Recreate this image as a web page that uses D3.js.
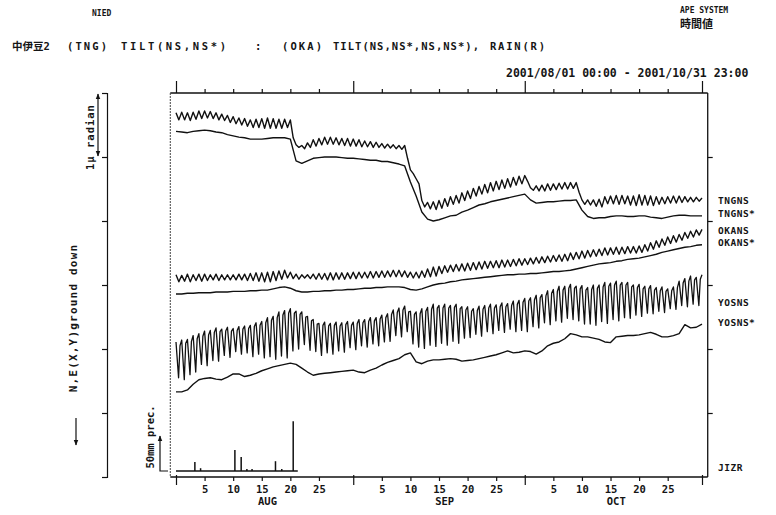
<!DOCTYPE html>
<html><head><meta charset="utf-8">
<script src="https://cdn.jsdelivr.net/npm/d3@7"></script>
<style>
body{margin:0;background:#fff}
svg{display:block}
text{font-family:"DejaVu Sans Mono","Noto Sans CJK JP",monospace;fill:#151515;font-weight:bold}
</style>
</head><body><svg id="c" width="776" height="515"></svg>
<script>
// ---------- data (tilt in micro-radian, arbitrary offsets; time in days since 2001/08/01 00:00) ----------
const MONTHS = ["AUG", "SEP", "OCT"];
const MONTH_START = [0, 31, 61];
const PERIOD_END = 92;
const DAY_TICKS = [5, 10, 15, 20, 25];
const TILT_TICKS = [-1, 0, 1, 2, 3, 4, 5];
const SERIES_LABELS = ["TNGNS", "TNGNS*", "OKANS", "OKANS*", "YOSNS", "YOSNS*", "JIZR"];

const TNGNS_STAR = [4.40,4.39,4.38,4.40,4.41,4.42,4.41,4.39,4.38,4.35,
 4.33,4.31,4.30,4.28,4.28,4.28,4.29,4.30,4.30,4.30,
 4.28,3.94,3.90,3.94,3.98,3.99,4.00,4.00,4.00,3.99,
 3.98,3.98,3.97,3.96,3.95,3.95,3.93,3.93,3.91,3.89,
 3.86,3.61,3.39,3.14,3.03,3.00,3.02,3.05,3.08,3.09,
 3.14,3.17,3.21,3.25,3.27,3.30,3.32,3.34,3.36,3.38,
 3.40,3.42,3.33,3.28,3.29,3.30,3.30,3.31,3.32,3.32,
 3.33,3.17,3.07,3.04,3.05,3.05,3.07,3.08,3.08,3.07,
 3.07,3.08,3.08,3.06,3.05,3.04,3.06,3.08,3.09,3.09,
 3.08,3.08,3.08];
const TNGNS_HI = [4.69,4.70,4.69,4.70,4.72,4.72,4.71,4.69,4.67,4.65,
 4.63,4.61,4.60,4.58,4.59,4.60,4.61,4.60,4.59,4.59,
 4.58,4.19,4.18,4.22,4.27,4.29,4.31,4.31,4.30,4.29,
 4.29,4.28,4.27,4.25,4.24,4.23,4.21,4.20,4.19,4.18,
 4.18,3.80,3.66,3.32,3.29,3.30,3.32,3.35,3.38,3.40,
 3.44,3.47,3.51,3.54,3.57,3.60,3.62,3.64,3.66,3.68,
 3.70,3.71,3.52,3.55,3.56,3.58,3.58,3.59,3.60,3.60,
 3.60,3.33,3.33,3.33,3.34,3.38,3.39,3.40,3.40,3.39,
 3.39,3.41,3.40,3.39,3.38,3.37,3.38,3.39,3.39,3.38,
 3.37,3.37,3.36];
const TNGNS_LO = [4.58,4.58,4.57,4.59,4.60,4.61,4.60,4.58,4.57,4.54,
 4.52,4.50,4.48,4.46,4.46,4.45,4.45,4.45,4.45,4.46,
 4.30,4.15,4.13,4.15,4.17,4.19,4.20,4.20,4.19,4.18,
 4.17,4.17,4.16,4.16,4.15,4.15,4.14,4.14,4.13,4.12,
 3.98,3.74,3.58,3.22,3.19,3.18,3.20,3.23,3.26,3.28,
 3.32,3.35,3.39,3.42,3.44,3.47,3.49,3.51,3.53,3.56,
 3.58,3.62,3.48,3.47,3.47,3.48,3.49,3.50,3.50,3.51,
 3.45,3.26,3.25,3.23,3.22,3.27,3.27,3.26,3.27,3.25,
 3.24,3.25,3.25,3.24,3.26,3.27,3.28,3.28,3.29,3.30,
 3.30,3.31];

const OKANS_STAR = [1.86,1.86,1.87,1.87,1.88,1.88,1.88,1.89,1.89,1.89,
 1.90,1.90,1.90,1.91,1.91,1.92,1.92,1.94,1.96,1.97,
 1.95,1.91,1.89,1.89,1.90,1.90,1.91,1.91,1.92,1.92,
 1.93,1.93,1.94,1.95,1.95,1.96,1.96,1.97,1.97,1.97,
 1.96,1.93,1.92,1.94,1.97,2.00,2.02,2.03,2.05,2.06,
 2.08,2.09,2.10,2.11,2.12,2.13,2.14,2.15,2.16,2.16,
 2.17,2.17,2.18,2.18,2.19,2.20,2.21,2.21,2.22,2.23,
 2.25,2.27,2.29,2.31,2.33,2.34,2.35,2.37,2.38,2.40,
 2.41,2.42,2.44,2.46,2.48,2.51,2.53,2.55,2.57,2.59,
 2.60,2.62,2.63];
const OKANS_HI = [2.16,2.15,2.17,2.16,2.17,2.17,2.16,2.17,2.16,2.16,
 2.16,2.17,2.17,2.18,2.19,2.19,2.20,2.21,2.22,2.23,
 2.20,2.17,2.16,2.16,2.17,2.18,2.18,2.19,2.19,2.19,
 2.19,2.20,2.20,2.20,2.21,2.21,2.22,2.22,2.23,2.23,
 2.22,2.20,2.20,2.22,2.25,2.28,2.29,2.30,2.31,2.32,
 2.33,2.34,2.35,2.36,2.37,2.37,2.38,2.39,2.39,2.40,
 2.41,2.41,2.42,2.43,2.44,2.45,2.46,2.47,2.48,2.50,
 2.51,2.53,2.54,2.55,2.56,2.58,2.58,2.59,2.59,2.60,
 2.60,2.61,2.63,2.66,2.69,2.72,2.75,2.77,2.79,2.82,
 2.84,2.86,2.87];
const OKANS_LO = [2.05,2.06,2.05,2.07,2.06,2.07,2.08,2.07,2.08,2.08,
 2.08,2.08,2.07,2.07,2.06,2.05,2.05,2.07,2.09,2.11,
 2.10,2.09,2.11,2.10,2.09,2.09,2.08,2.08,2.09,2.09,
 2.10,2.10,2.11,2.11,2.11,2.12,2.12,2.13,2.13,2.13,
 2.12,2.11,2.11,2.12,2.13,2.14,2.18,2.20,2.21,2.22,
 2.22,2.23,2.24,2.25,2.26,2.27,2.27,2.28,2.29,2.30,
 2.31,2.32,2.33,2.34,2.35,2.36,2.37,2.37,2.38,2.40,
 2.41,2.42,2.44,2.45,2.46,2.47,2.48,2.48,2.49,2.50,
 2.50,2.51,2.53,2.56,2.59,2.62,2.65,2.67,2.70,2.73,
 2.75,2.78];

const YOSNS_STAR = [0.33,0.33,0.36,0.45,0.52,0.54,0.55,0.53,0.52,0.56,
 0.61,0.61,0.57,0.59,0.62,0.66,0.69,0.72,0.74,0.76,
 0.78,0.76,0.70,0.64,0.59,0.61,0.62,0.63,0.64,0.65,
 0.66,0.67,0.64,0.63,0.67,0.70,0.75,0.79,0.82,0.85,
 0.91,0.94,0.80,0.77,0.81,0.83,0.83,0.84,0.85,0.84,
 0.81,0.82,0.83,0.85,0.87,0.89,0.91,0.94,0.97,0.94,
 0.95,0.97,0.96,0.92,0.97,1.05,1.09,1.11,1.16,1.24,
 1.22,1.19,1.19,1.17,1.15,1.11,1.10,1.19,1.20,1.21,
 1.21,1.22,1.24,1.26,1.23,1.19,1.19,1.21,1.24,1.38,
 1.33,1.34,1.39];
// daily peak (00h), spike bottom (~11h) and evening level (~17h)
const YOSNS_HI = [1.11,1.14,1.15,1.21,1.24,1.28,1.29,1.33,1.31,1.34,
 1.32,1.35,1.36,1.37,1.41,1.43,1.49,1.51,1.58,1.60,
 1.63,1.59,1.58,1.51,1.46,1.40,1.42,1.40,1.42,1.41,
 1.43,1.42,1.46,1.46,1.49,1.49,1.53,1.55,1.61,1.64,
 1.67,1.59,1.58,1.63,1.65,1.70,1.68,1.70,1.68,1.70,
 1.66,1.66,1.63,1.67,1.68,1.70,1.69,1.72,1.71,1.75,
 1.76,1.79,1.80,1.84,1.85,1.91,1.93,1.98,1.98,2.01,
 1.98,1.99,1.96,2.00,2.00,2.04,2.03,2.06,2.04,2.04,
 2.00,2.01,1.98,1.99,1.96,1.97,1.94,1.97,2.06,2.10,
 2.14,2.12,2.16];
const YOSNS_LO = [0.55,0.52,0.60,0.64,0.76,0.74,0.82,0.81,0.90,0.87,
 0.96,0.92,0.94,0.88,0.92,0.86,0.88,0.84,0.89,0.86,
 0.97,1.00,1.07,0.98,0.96,0.90,0.94,0.92,0.97,0.95,
 1.02,0.99,1.05,1.03,1.08,1.05,1.11,1.12,1.21,1.19,
 1.27,1.08,1.03,1.01,1.06,1.04,1.09,1.06,1.12,1.09,
 1.17,1.18,1.23,1.20,1.27,1.24,1.29,1.26,1.31,1.27,
 1.29,1.27,1.35,1.33,1.41,1.38,1.44,1.42,1.48,1.46,
 1.44,1.39,1.39,1.37,1.43,1.40,1.46,1.44,1.49,1.48,
 1.53,1.51,1.56,1.55,1.59,1.57,1.63,1.62,1.68,1.66,
 1.70,1.68];
const YOSNS_EVE = [1.05,1.09,1.12,1.16,1.20,1.22,1.26,1.27,1.28,1.28,
 1.29,1.31,1.32,1.35,1.37,1.41,1.45,1.49,1.53,1.56,
 1.56,1.54,1.50,1.44,1.39,1.37,1.36,1.37,1.36,1.38,
 1.37,1.40,1.41,1.43,1.44,1.47,1.49,1.54,1.57,1.61,
 1.58,1.54,1.55,1.59,1.62,1.64,1.64,1.64,1.65,1.63,
 1.61,1.59,1.60,1.62,1.64,1.64,1.66,1.66,1.68,1.70,
 1.73,1.75,1.77,1.80,1.83,1.87,1.90,1.92,1.95,1.95,
 1.94,1.92,1.93,1.95,1.97,1.98,2.00,2.00,2.00,1.97,
 1.96,1.94,1.94,1.92,1.91,1.90,1.91,1.96,2.03,2.06,
 2.08,2.09];

const RAIN_T = [3.3, 4.3, 10.3, 11.4, 12.4, 13.3, 17.4, 18.5, 20.5];
const RAIN_MM = [13, 4, 30, 20, 3, 3, 14, 3, 71];
const RAIN_END = 21.3;

// ---------- drawing ----------
const svg = d3.select("#c");
const x = d3.scaleLinear().domain([0, PERIOD_END]).range([176, 702]);
const y = d3.scaleLinear().domain([-1, 5]).range([477, 93]);
const yr = d3.scaleLinear().domain([0, 50]).range([471, 436]);
const ink = "#111";

const line = d3.line().x(d => x(d[0])).y(d => y(d[1]));
const daily = arr => arr.map((v, i) => [i, v]);
const osc = (hi, lo) => hi.flatMap((v, i) => i < lo.length ? [[i, v], [i + 0.5, lo[i]]] : [[i, v]]);
const osc3 = (hi, lo, eve) => hi.flatMap((v, i) => i < lo.length ? [[i, v], [i + 0.45, lo[i]], [i + 0.7, eve[i]]] : [[i, v]]);

// header texts
svg.append("text").attr("x", 92).attr("y", 16).attr("font-size", 8).text("NIED");
svg.append("text").attr("x", 680).attr("y", 13).attr("font-size", 8).text("APE SYSTEM");
svg.append("text").attr("x", 680).attr("y", 28).attr("font-size", 11)
  .style("font-family", "'Noto Sans CJK JP'").text("時間値");
const titleSegs = [["中伊豆2", 12, 0], ["(TNG)", 67, 40], ["TILT(NS,NS*)", 121, 105], [":", 255, 0], ["(OKA)", 282, 40],
  ["TILT(NS,NS*,NS,NS*),", 333, 146], ["RAIN(R)", 490, 55]];
svg.append("g").selectAll("text").data(titleSegs).join("text")
  .attr("x", d => d[1]).attr("y", 50).attr("font-size", 10.5)
  .each(function (d) { if (d[2]) d3.select(this).attr("textLength", d[2]).attr("lengthAdjust", "spacing"); })
  .text(d => d[0]);
svg.append("text").attr("x", 506).attr("y", 77).attr("font-size", 11.5)
  .text("2001/08/01 00:00 - 2001/10/31 23:00");

// frame
const fl = x(-1), fr = x(PERIOD_END + 1);
svg.append("line").attr("x1", fl).attr("x2", fr).attr("y1", y(5)).attr("y2", y(5)).attr("stroke", ink).attr("stroke-width", 1.3);
svg.append("line").attr("x1", fl).attr("x2", fr).attr("y1", y(-1)).attr("y2", y(-1)).attr("stroke", ink).attr("stroke-width", 1.3);
svg.append("line").attr("x1", fr).attr("x2", fr).attr("y1", y(5)).attr("y2", y(-1)).attr("stroke", ink).attr("stroke-width", 1.3);
svg.append("line").attr("x1", fl).attr("x2", fl).attr("y1", y(5)).attr("y2", y(-1)).attr("stroke", "#444").attr("stroke-width", 1).attr("stroke-dasharray", "2,1");

// time ticks
const minorT = MONTH_START.flatMap(m => DAY_TICKS.map(d => m + d)).filter(t => t < PERIOD_END);
const majorT = MONTH_START.concat([PERIOD_END]);
const topMinor = d3.axisTop(x).tickValues(minorT).tickSize(4).tickFormat("");
const topMajor = d3.axisTop(x).tickValues(majorT).tickSize(12).tickFormat("");
[topMinor, topMajor].forEach(ax => {
  const g = svg.append("g").attr("transform", `translate(0,${y(5)})`).call(ax);
  g.select(".domain").remove();
  g.selectAll("line").attr("stroke", ink).attr("stroke-width", 1.2);
});
const botMinor = d3.axisBottom(x).tickValues(minorT).tickSize(4).tickPadding(5)
  .tickFormat(t => String(Math.round(t - d3.max(MONTH_START.filter(m => m <= t)))));
const gb = svg.append("g").attr("transform", `translate(0,${y(-1)})`).call(botMinor);
gb.select(".domain").remove();
gb.selectAll("line").attr("stroke", ink).attr("stroke-width", 1.2);
gb.selectAll("text").attr("font-size", 10.5).style("font-family", "'DejaVu Sans Mono',monospace").attr("fill", ink);
const botMajor = d3.axisBottom(x).tickValues(majorT).tickSize(10).tickFormat("");
const gbm = svg.append("g").attr("transform", `translate(0,${y(-1) - 2})`).call(botMajor);
gbm.select(".domain").remove();
gbm.selectAll("line").attr("stroke", ink).attr("stroke-width", 1.2);
svg.append("g").selectAll("text").data(MONTHS).join("text")
  .attr("x", (d, i) => x(MONTH_START[i] + 16)).attr("y", 505).attr("text-anchor", "middle")
  .attr("font-size", 10.5).text(d => d);

// right tilt axis
const gr = svg.append("g").attr("transform", `translate(${fr},0)`)
  .call(d3.axisRight(y).tickValues(TILT_TICKS.filter(v => v >= 0 && v < 5)).tickSize(5).tickFormat(""));
gr.select(".domain").remove();
gr.selectAll("line").attr("stroke", ink).attr("stroke-width", 1.2);

// left scale axis
const gl = svg.append("g").attr("transform", "translate(107,0)")
  .call(d3.axisLeft(y).tickValues(TILT_TICKS).tickSize(5).tickFormat(""));
gl.selectAll("line,path").attr("stroke", ink).attr("stroke-width", 1.2);

// arrow markers
const defs = svg.append("defs");
defs.append("marker").attr("id", "ah").attr("viewBox", "0 0 10 10").attr("refX", 9).attr("refY", 5)
  .attr("markerWidth", 5).attr("markerHeight", 5).attr("orient", "auto-start-reverse")
  .append("path").attr("d", "M0,1 L10,5 L0,9 z").attr("fill", ink);

// 1 micro radian bar
svg.append("line").attr("x1", 98).attr("x2", 98).attr("y1", y(5) + 1).attr("y2", y(4) - 1)
  .attr("stroke", ink).attr("stroke-width", 1.2).attr("marker-start", "url(#ah)").attr("marker-end", "url(#ah)");
svg.append("text").attr("transform", "translate(94,137) rotate(-90)").attr("text-anchor", "middle")
  .attr("font-size", 10.5).style("letter-spacing", "1px").text("1μ radian");
svg.append("text").attr("transform", "translate(77,318) rotate(-90)").attr("text-anchor", "middle")
  .attr("font-size", 11).style("letter-spacing", "1.2px").text("N,E(X,Y)ground down");
svg.append("line").attr("x1", 76).attr("x2", 76).attr("y1", 418).attr("y2", 445)
  .attr("stroke", ink).attr("stroke-width", 1.2).attr("marker-end", "url(#ah)");
// rain scale bar
svg.append("text").attr("transform", "translate(154,437) rotate(-90)").attr("text-anchor", "middle")
  .attr("font-size", 10.5).text("50mm prec.");
svg.append("path").attr("d", `M168,${yr(0)} H160 V${yr(50)}`).attr("fill", "none")
  .attr("stroke", ink).attr("stroke-width", 1.2).attr("marker-end", "url(#ah)");

// series
const pathStyle = (p, w) => p.attr("fill", "none").attr("stroke", ink).attr("stroke-width", w).attr("stroke-linejoin", "round");
pathStyle(svg.append("path").attr("d", line(osc(TNGNS_HI, TNGNS_LO))), 1.4);
pathStyle(svg.append("path").attr("d", line(daily(TNGNS_STAR))), 1.4);
pathStyle(svg.append("path").attr("d", line(osc(OKANS_HI, OKANS_LO))), 1.4);
pathStyle(svg.append("path").attr("d", line(daily(OKANS_STAR))), 1.4);
pathStyle(svg.append("path").attr("d", line(osc3(YOSNS_HI, YOSNS_LO, YOSNS_EVE))), 1.3);
pathStyle(svg.append("path").attr("d", line(daily(YOSNS_STAR))), 1.4);

// rain
svg.append("line").attr("x1", x(0)).attr("x2", x(RAIN_END)).attr("y1", yr(0)).attr("y2", yr(0))
  .attr("stroke", ink).attr("stroke-width", 1.3);
svg.append("g").selectAll("line").data(RAIN_T).join("line")
  .attr("x1", d => x(d)).attr("x2", d => x(d)).attr("y1", yr(0)).attr("y2", (d, i) => yr(RAIN_MM[i]))
  .attr("stroke", ink).attr("stroke-width", 1.5);

// series labels
const labelY = [200, 213, 230, 242, 302, 322, 467];
svg.append("g").selectAll("text").data(SERIES_LABELS).join("text")
  .attr("x", 718).attr("y", (d, i) => labelY[i] + 4).attr("font-size", 9.5).style("letter-spacing", "0.5px")
  .text(d => d);
</script>
</body></html>
